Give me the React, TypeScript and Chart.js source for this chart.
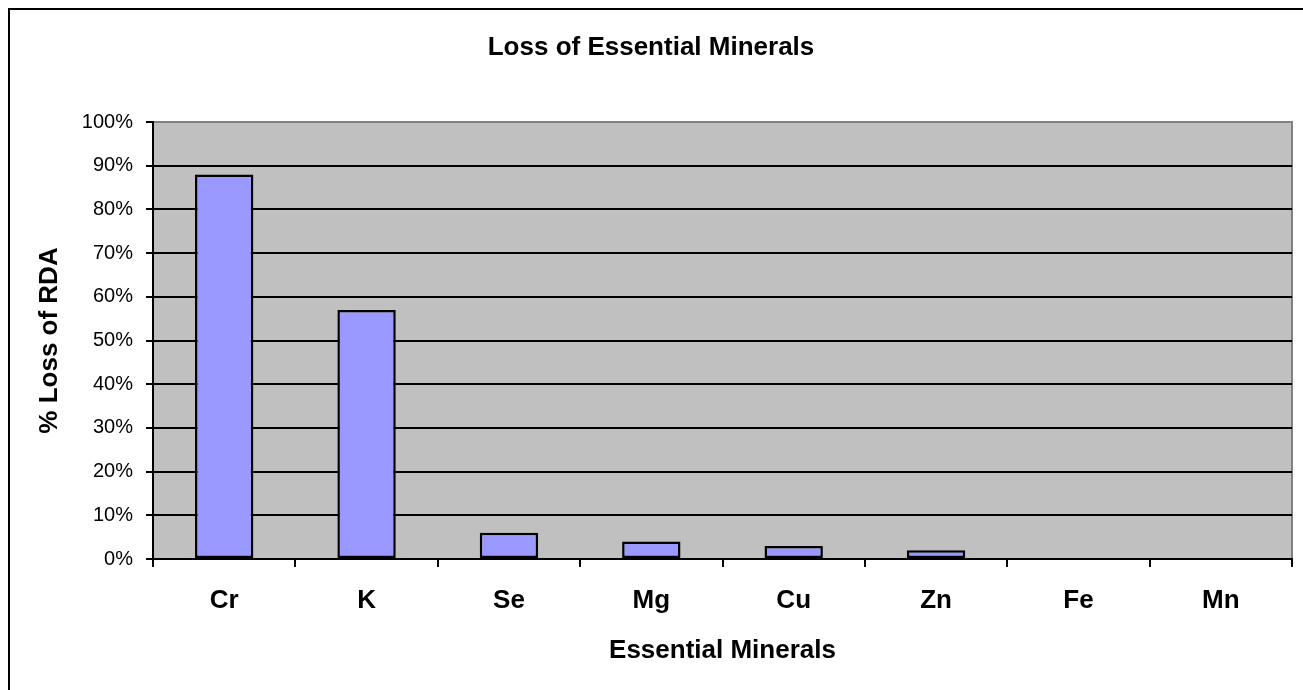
import React, { useEffect, useRef } from "react";
import { Chart, registerables } from "chart.js";

Chart.register(...registerables);

const minerals: string[] = ["Cr", "K", "Se", "Mg", "Cu", "Zn", "Fe", "Mn"];
const lossPercent: number[] = [88, 57, 6, 4, 3, 2, 0, 0];
const yTickStep = 10;
const yMax = 100;

const chartTitle = "Loss of Essential Minerals";
const xTitle = "Essential Minerals";
const yTitle = "% Loss of RDA";

const FONT = "'Liberation Sans', Arial, Helvetica, sans-serif";

const plotBackground = {
  id: "plotBackground",
  beforeDraw(chart: any) {
    const { ctx, chartArea } = chart;
    if (!chartArea) return;
    const { left, top, right, bottom } = chartArea;
    ctx.save();
    ctx.fillStyle = "#C0C0C0";
    ctx.fillRect(left, top, right - left, bottom - top);
    ctx.strokeStyle = "#808080";
    ctx.lineWidth = 2;
    ctx.strokeRect(left, top, right - left, bottom - top);
    ctx.restore();
  },
};

export default function App() {
  const canvasRef = useRef<HTMLCanvasElement | null>(null);

  useEffect(() => {
    document.body.style.margin = "0";
    document.body.style.overflow = "hidden";
    const canvas = canvasRef.current;
    if (!canvas) return;
    const chart = new Chart(canvas, {
      type: "bar",
      data: {
        labels: minerals,
        datasets: [
          {
            label: "% Loss of RDA",
            data: lossPercent,
            backgroundColor: "#9999FF",
            borderColor: "#000000",
            borderWidth: 2.5,
            borderSkipped: false,
            barPercentage: 0.41,
            categoryPercentage: 1,
          },
        ],
      },
      options: {
        responsive: false,
        animation: false,
        devicePixelRatio: 1,
        layout: { padding: { top: 0, left: 0, right: 11, bottom: 0 } },
        plugins: {
          legend: { display: false },
          tooltip: { enabled: false },
          title: {
            display: true,
            text: chartTitle,
            color: "#000",
            font: { family: FONT, size: 26, weight: "bold", lineHeight: 1.2 },
            padding: { top: 22, bottom: 58.8 },
          },
        },
        scales: {
          x: {
            afterFit(scale: any) {
              scale.height = 131;
            },
            offset: true,
            grid: {
              display: true,
              drawOnChartArea: false,
              drawTicks: true,
              offset: true,
              tickLength: 8,
              color: "#000",
              lineWidth: 2,
            },
            border: { display: true, color: "#000", width: 2 },
            ticks: {
              color: "#000",
              padding: 18,
              font: { family: FONT, size: 26, weight: "bold", lineHeight: 1.2 },
              maxRotation: 0,
              autoSkip: false,
            },
            title: {
              display: true,
              text: xTitle,
              color: "#000",
              font: { family: FONT, size: 26, weight: "bold", lineHeight: 1.2 },
              padding: { top: 0, bottom: 23.4 },
            },
          },
          y: {
            afterFit(scale: any) {
              scale.width = 143;
            },
            min: 0,
            max: yMax,
            grid: {
              color: (ctx: any) => (ctx.tick && ctx.tick.value === yMax ? "#808080" : "#000"),
              tickColor: "#000",
              lineWidth: 2,
              tickLength: 7,
              drawTicks: true,
            },
            border: { display: true, color: "#000", width: 2 },
            ticks: {
              stepSize: yTickStep,
              color: "#000",
              padding: 13,
              font: { family: FONT, size: 20, lineHeight: 1.2 },
              callback: (v: any) => `${v}%`,
            },
            title: {
              display: true,
              text: yTitle,
              color: "#000",
              font: { family: FONT, size: 26, weight: "bold", lineHeight: 1.2 },
              padding: { top: 24.4, bottom: 0 },
            },
          },
        },
      },
      plugins: [plotBackground],
    });
    return () => chart.destroy();
  }, []);

  return (
    <div
      style={{
        position: "absolute",
        left: 8,
        top: 8,
        borderLeft: "2px solid #000",
        borderTop: "2px solid #000",
        background: "#fff",
        width: 1293,
        height: 680,
      }}
    >
      <canvas ref={canvasRef} width={1293} height={680} style={{ display: "block" }} />
    </div>
  );
}
